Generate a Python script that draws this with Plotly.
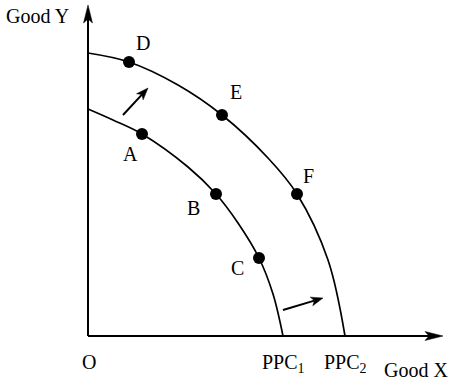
import math
import plotly.graph_objects as go

# PPC curves (Good X, Good Y)
ppc1_x = [0, 25, 54, 100, 128, 150, 171, 185, 195]
ppc1_y = [227, 216, 202, 169, 142, 113, 78, 42, 0]
ppc2_x = [0, 41, 90, 134, 180, 209, 240, 257]
ppc2_y = [283, 274, 251, 221, 178, 142, 76, 0]

# labelled points
pt_names = ["A", "B", "C", "D", "E", "F"]
pt_x = [54, 128, 171, 41, 134, 209]
pt_y = [202, 142, 78, 274, 221, 142]
lbl_x = [42, 105, 149, 55, 148, 220]
lbl_y = [182, 128, 68, 293, 244, 160]

# arrows (tail -> head): y axis, x axis, two shift arrows
arrow_tail = [(0, 0), (0, 0), (35, 221), (195, 26)]
arrow_head = [(0, 331), (355, 0), (60, 248), (235, 38)]
head_len = [18, 18, 12, 12]
head_half = [4.5, 4.5, 4.5, 4.5]
head_notch = [4, 4, 3, 3]

FONT = "Liberation Serif, Times New Roman, serif"
fig = go.Figure()
fig.add_trace(go.Scatter(x=ppc1_x, y=ppc1_y, mode="lines",
                         line=dict(color="black", width=1.7, shape="spline"),
                         hoverinfo="skip"))
fig.add_trace(go.Scatter(x=ppc2_x, y=ppc2_y, mode="lines",
                         line=dict(color="black", width=1.7, shape="spline"),
                         hoverinfo="skip"))
for (tx, ty), (hx, hy), L, W, N in zip(arrow_tail, arrow_head, head_len, head_half, head_notch):
    d = math.hypot(hx - tx, hy - ty)
    ux, uy = (hx - tx) / d, (hy - ty) / d
    px, py = -uy, ux
    bx, by = hx - ux * L, hy - uy * L
    nx, ny = bx + ux * N, by + uy * N
    fig.add_trace(go.Scatter(x=[tx, nx], y=[ty, ny], mode="lines",
                             line=dict(color="black", width=2), hoverinfo="skip"))
    fig.add_trace(go.Scatter(
        x=[hx, bx + px * W, nx, bx - px * W, hx],
        y=[hy, by + py * W, ny, by - py * W, hy],
        mode="lines", fill="toself", fillcolor="black",
        line=dict(color="black", width=0.5), hoverinfo="skip"))
fig.add_trace(go.Scatter(x=pt_x, y=pt_y, mode="markers",
                         marker=dict(color="black", size=12)))

ann = []
for n, lx, ly in zip(pt_names, lbl_x, lbl_y):
    ann.append(dict(x=lx, y=ly, text=n, showarrow=False))
ann.append(dict(x=1, y=-26, text="O", showarrow=False))
ann.append(dict(x=195, y=-27, text="PPC<sub>1</sub>", showarrow=False))
ann.append(dict(x=257, y=-27, text="PPC<sub>2</sub>", showarrow=False))
ann.append(dict(x=328, y=-34, text="Good X", showarrow=False))
ann.append(dict(x=-51, y=320, text="Good Y", showarrow=False))

fig.update_layout(
    width=450, height=385, autosize=False,
    margin=dict(l=0, r=0, t=0, b=0),
    paper_bgcolor="white", plot_bgcolor="white",
    showlegend=False,
    font=dict(family=FONT, size=20, color="black"),
    xaxis=dict(range=[-88, 362], visible=False, fixedrange=True),
    yaxis=dict(range=[-49, 336], visible=False, fixedrange=True),
    annotations=ann,
)
fig.write_html("out.html")
